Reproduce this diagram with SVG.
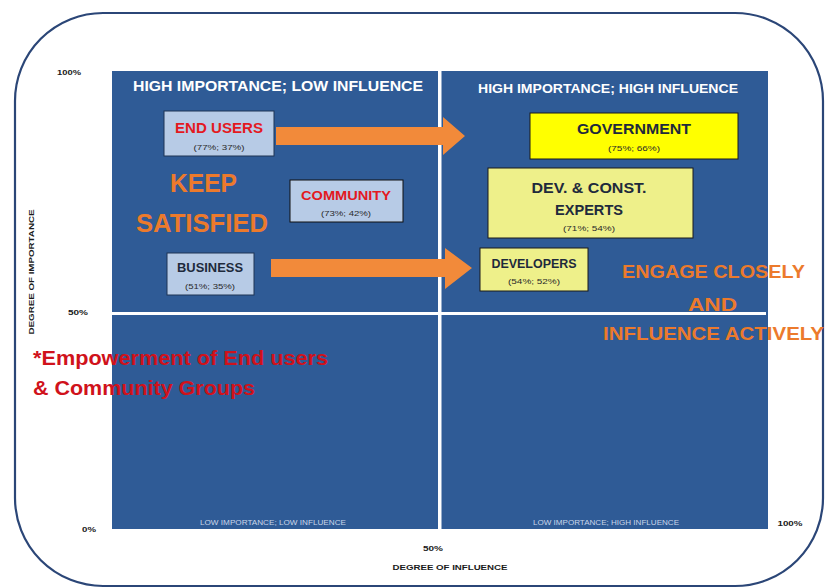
<svg xmlns="http://www.w3.org/2000/svg" width="825" height="588" viewBox="0 0 825 588">
<defs>
<style>
text{font-family:"Liberation Sans","Open Sans",sans-serif;}
.quad{fill:#2f5b96;}
.hdr{fill:#ffffff;font-weight:bold;text-anchor:middle;}
.low{fill:#c9d6ea;font-size:7px;text-anchor:middle;}
.axis{fill:#1a1a1a;font-size:8px;font-weight:bold;text-anchor:middle;}
.nodeBlue{fill:#b7cbe6;stroke:#1f3454;stroke-width:1;}
.nodeY{fill:#ffff00;stroke:#1a1a1a;stroke-width:1;}
.nodeLY{fill:#eef08a;stroke:#1a1a1a;stroke-width:1;}
.lbl{font-weight:bold;text-anchor:middle;}
.red{fill:#e3191f;}
.dark{fill:#1e2a3c;}
.pct{fill:#2a2a2a;font-size:8px;text-anchor:middle;}
.orange{fill:#ec7a2c;font-weight:bold;}
.arrow{fill:#f28a3a;}
.emp{fill:#d0121b;font-weight:bold;font-size:20px;}
</style>
</defs>
<rect x="15" y="13" width="808" height="573" rx="88" ry="88" fill="#ffffff" stroke="#2b4677" stroke-width="2.2"/>
<g id="plot">
<rect class="quad" x="112" y="71" width="656" height="458"/>
<rect x="438" y="71" width="3.5" height="458" fill="#ffffff"/>
<rect x="112" y="312" width="654" height="3" fill="#ffffff"/>
<text class="hdr" x="278" y="91" font-size="15" textLength="290" lengthAdjust="spacingAndGlyphs">HIGH IMPORTANCE; LOW INFLUENCE</text>
<text class="hdr" x="608" y="93" font-size="12.5" textLength="260" lengthAdjust="spacingAndGlyphs">HIGH IMPORTANCE; HIGH  INFLUENCE</text>
<text class="low" x="273" y="525" textLength="146" lengthAdjust="spacingAndGlyphs">LOW IMPORTANCE; LOW INFLUENCE</text>
<text class="low" x="606" y="525" textLength="146" lengthAdjust="spacingAndGlyphs">LOW IMPORTANCE; HIGH INFLUENCE</text>
</g>
<g id="axes">
<text class="axis" x="69" y="75" textLength="24" lengthAdjust="spacingAndGlyphs">100%</text>
<text class="axis" x="78" y="315" textLength="20" lengthAdjust="spacingAndGlyphs">50%</text>
<text class="axis" x="89" y="532" textLength="14" lengthAdjust="spacingAndGlyphs">0%</text>
<text class="axis" x="790" y="526" textLength="25" lengthAdjust="spacingAndGlyphs">100%</text>
<text class="axis" x="433" y="551" textLength="20" lengthAdjust="spacingAndGlyphs">50%</text>
<text class="axis" x="450" y="570" font-size="9" textLength="115" lengthAdjust="spacingAndGlyphs">DEGREE OF INFLUENCE</text>
<text class="axis" x="0" y="0" transform="translate(34,272) rotate(-90)" textLength="125" lengthAdjust="spacingAndGlyphs">DEGREE OF IMPORTANCE</text>
</g>
<g id="connectors">
<polygon class="arrow" points="276,127 443,127 443,117 465,136 443,155 443,145 276,145"/>
<polygon class="arrow" points="271,259 445,259 445,248 472,268 445,289 445,277 271,277"/>
</g>
<g id="end-users">
<rect class="nodeBlue" x="164" y="111" width="110" height="45"/>
<text class="lbl red" x="219" y="133" font-size="14" textLength="88" lengthAdjust="spacingAndGlyphs">END USERS</text>
<text class="pct" x="219" y="150" textLength="51" lengthAdjust="spacingAndGlyphs">(77%; 37%)</text>
</g>
<g id="community">
<rect class="nodeBlue" x="290" y="180" width="113" height="42" style="stroke:#111"/>
<text class="lbl red" x="346" y="200" font-size="13" textLength="90" lengthAdjust="spacingAndGlyphs">COMMUNITY</text>
<text class="pct" x="346" y="216" textLength="50" lengthAdjust="spacingAndGlyphs">(73%; 42%)</text>
</g>
<g id="business">
<rect class="nodeBlue" x="167" y="253" width="87" height="42"/>
<text class="lbl dark" x="210" y="272" font-size="13" textLength="66" lengthAdjust="spacingAndGlyphs">BUSINESS</text>
<text class="pct" x="210" y="289" textLength="50" lengthAdjust="spacingAndGlyphs">(51%; 35%)</text>
</g>
<g id="government">
<rect class="nodeY" x="530" y="113" width="208" height="46"/>
<text class="lbl dark" x="634" y="134" font-size="15" textLength="114" lengthAdjust="spacingAndGlyphs">GOVERNMENT</text>
<text class="pct" x="634" y="151" textLength="52" lengthAdjust="spacingAndGlyphs">(75%; 66%)</text>
</g>
<g id="dev-const-experts">
<rect class="nodeLY" x="488" y="168" width="205" height="70"/>
<text class="lbl dark" x="589" y="193" font-size="15" textLength="115" lengthAdjust="spacingAndGlyphs">DEV. &amp; CONST.</text>
<text class="lbl dark" x="589" y="215" font-size="15" textLength="68" lengthAdjust="spacingAndGlyphs">EXPERTS</text>
<text class="pct" x="589" y="231" textLength="52" lengthAdjust="spacingAndGlyphs">(71%; 54%)</text>
</g>
<g id="developers">
<rect class="nodeLY" x="480" y="248" width="108" height="43"/>
<text class="lbl dark" x="534" y="268" font-size="13" textLength="85" lengthAdjust="spacingAndGlyphs">DEVELOPERS</text>
<text class="pct" x="534" y="284" textLength="52" lengthAdjust="spacingAndGlyphs">(54%; 52%)</text>
</g>
<g id="keep-satisfied">
<text class="orange" x="170" y="192" font-size="26" textLength="67" lengthAdjust="spacingAndGlyphs">KEEP</text>
<text class="orange" x="136" y="232" font-size="26" textLength="132" lengthAdjust="spacingAndGlyphs">SATISFIED</text>
</g>
<g id="engage">
<text class="orange" x="622" y="278" font-size="18" textLength="183" lengthAdjust="spacingAndGlyphs">ENGAGE CLOSELY</text>
<text class="orange" x="688" y="311" font-size="18" textLength="49" lengthAdjust="spacingAndGlyphs">AND</text>
<text class="orange" x="603" y="340" font-size="18" textLength="221" lengthAdjust="spacingAndGlyphs">INFLUENCE ACTIVELY</text>
</g>
<g id="empowerment">
<text class="emp" x="33" y="365" textLength="295" lengthAdjust="spacingAndGlyphs">*Empowerment of End users</text>
<text class="emp" x="33" y="395" textLength="222" lengthAdjust="spacingAndGlyphs">&amp; Community Groups</text>
</g>
</svg>
